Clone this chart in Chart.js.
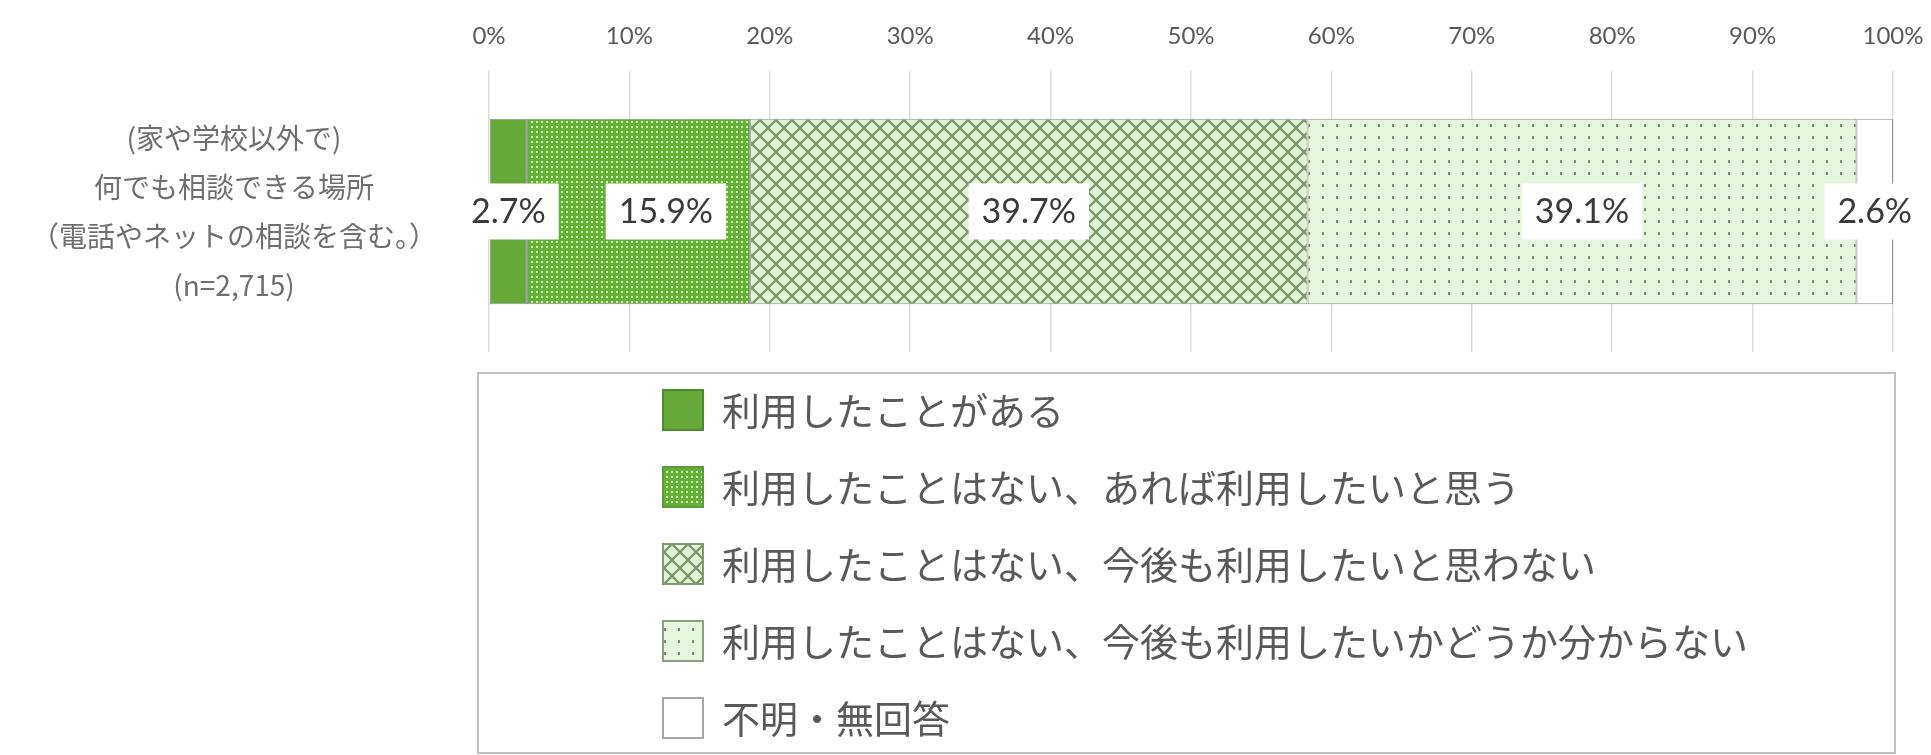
<!DOCTYPE html>
<html lang="ja">
<head>
<meta charset="utf-8">
<script src="https://cdn.jsdelivr.net/npm/chart.js@4.4.1/dist/chart.umd.min.js"></script>
<style>
  html, body { margin: 0; padding: 0; background: #fff; }
  #wrap { width: 1931px; height: 755px; }
</style>
</head>
<body>
<div id="wrap"><canvas id="chart"></canvas></div>
<script>
// values
const categoryLabels = [['(家や学校以外で)', '何でも相談できる場所', '（電話やネットの相談を含む。）', '(n=2,715)']];
const seriesNames = [
    '利用したことがある',
    '利用したことはない、あれば利用したいと思う',
    '利用したことはない、今後も利用したいと思わない',
    '利用したことはない、今後も利用したいかどうか分からない',
    '不明・無回答'
];
const seriesValues = [2.7, 15.9, 39.7, 39.1, 2.6];
const axisMin = 0;
const axisMax = 100;
const axisStep = 10;

function makeTile(w, h, draw) {
    const c = document.createElement('canvas');
    c.width = w;
    c.height = h;
    draw(c.getContext('2d'), w, h);
    return document.createElement('canvas').getContext('2d').createPattern(c, 'repeat');
}

const solidGreen = '#65a93a';

const denseDots = makeTile(5, 5, (g, w, h) => {
    g.fillStyle = '#64b038';
    g.fillRect(0, 0, w, h);
    g.fillStyle = '#cdf0b2';
    g.fillRect(1, 1, 2, 2);
});

const crossHatch = makeTile(16, 16, (g, w, h) => {
    g.fillStyle = '#e3f4d8';
    g.fillRect(0, 0, w, h);
    g.strokeStyle = '#7a986a';
    g.lineWidth = 2.3;
    g.beginPath();
    g.moveTo(-2, -2); g.lineTo(w + 2, h + 2);
    g.moveTo(w + 2, -2); g.lineTo(-2, h + 2);
    g.stroke();
});

const sparseDots = makeTile(14, 12, (g, w, h) => {
    g.fillStyle = '#e6f5dd';
    g.fillRect(0, 0, w, h);
    g.fillStyle = '#788f6c';
    g.fillRect(6, 4, 2, 3);
});

const fills = [solidGreen, denseDots, crossHatch, sparseDots, '#ffffff'];
const swatchBorders = ['#4f8a2e', '#5d9a3c', '#7d9b6b', '#8aa07e', '#a6a6a6'];

// white boxed value labels centred on each segment,
// nudged right when they would crowd the previous one
const valueLabels = {
    id: 'valueLabels',
    afterDatasetsDraw(chart) {
        const ctx = chart.ctx;
        const minGap = 47;
        let prevRight = -Infinity;
        ctx.save();
        ctx.font = '34px Lato';
        ctx.textAlign = 'center';
        ctx.textBaseline = 'middle';
        chart.data.datasets.forEach((ds, i) => {
            const meta = chart.getDatasetMeta(i);
            meta.data.forEach((el, j) => {
                const p = el.getProps(['x', 'y', 'base'], true);
                let cx = (p.x + p.base) / 2;
                const text = ds.data[j].toFixed(1) + '%';
                const tw = ctx.measureText(text).width;
                const half = tw / 2 + 13;
                if (cx - half < prevRight + minGap) cx = prevRight + minGap + half;
                prevRight = cx + half;
                ctx.fillStyle = '#ffffff';
                ctx.fillRect(cx - half, p.y - 28, half * 2, 56);
                ctx.fillStyle = '#3a3a3a';
                ctx.fillText(text, cx, p.y + 1);
            });
        });
        ctx.restore();
    }
};

// one-item-per-row legend inside a framed box under the plot
const boxLegend = {
    id: 'boxLegend',
    afterDraw(chart) {
        const {ctx, chartArea} = chart;
        const left = chartArea.left - 11;
        const right = chartArea.right + 2;
        const top = chartArea.bottom + 21;
        const bottom = chart.height - 2;
        ctx.save();
        ctx.strokeStyle = '#bfbfbf';
        ctx.lineWidth = 2;
        ctx.strokeRect(left, top, right - left, bottom - top);
        ctx.font = '38px "Noto Sans CJK JP"';
        ctx.textAlign = 'left';
        ctx.textBaseline = 'middle';
        chart.data.datasets.forEach((ds, i) => {
            const cy = top + 37 + i * 77;
            const sx = left + 185;
            ctx.fillStyle = ds.backgroundColor;
            ctx.fillRect(sx, cy - 20, 40, 40);
            ctx.strokeStyle = swatchBorders[i];
            ctx.lineWidth = 2;
            ctx.strokeRect(sx, cy - 20, 40, 40);
            ctx.fillStyle = '#595959';
            ctx.fillText(ds.label, sx + 59, cy + 1);
        });
        ctx.restore();
    }
};

const datasets = seriesNames.map((name, i) => ({
    label: name,
    data: [seriesValues[i]],
    backgroundColor: fills[i],
    borderColor: '#8f8f8f',
    borderWidth: 1,
    borderSkipped: false,
    barPercentage: 0.66,
    categoryPercentage: 1
}));

new Chart(document.getElementById('chart'), {
    type: 'bar',
    data: {
        labels: categoryLabels,
        datasets: datasets
    },
    options: {
        indexAxis: 'y',
        responsive: true,
        maintainAspectRatio: false,
        animation: false,
        layout: {
            padding: { top: 0, left: 0, right: 38, bottom: 403 }
        },
        plugins: {
            legend: { display: false },
            tooltip: { enabled: false }
        },
        scales: {
            x: {
                position: 'top',
                stacked: true,
                min: axisMin,
                max: axisMax,
                afterFit: scale => {
                    scale.height = 71;
                    scale.paddingLeft = 0;
                    scale.paddingRight = 0;
                },
                ticks: {
                    stepSize: axisStep,
                    padding: 20,
                    color: '#595959',
                    font: { family: 'Lato', size: 24 },
                    callback: v => v + '%'
                },
                grid: {
                    color: '#dcdcdc',
                    lineWidth: 1.5,
                    drawTicks: false
                },
                border: { display: false }
            },
            y: {
                stacked: true,
                afterFit: scale => {
                    // the tall multi-line label must not push the plot down
                    scale.width = 489;
                    scale.paddingTop = 0;
                    scale.paddingBottom = 0;
                },
                ticks: {
                    crossAlign: 'center',
                    padding: 52,
                    color: '#6f6f6f',
                    font: { family: '"Noto Sans CJK JP"', size: 28, lineHeight: 1.75 }
                },
                grid: { display: false, drawTicks: false },
                border: { display: false }
            }
        }
    },
    plugins: [valueLabels, boxLegend]
});
</script>
</body>
</html>
